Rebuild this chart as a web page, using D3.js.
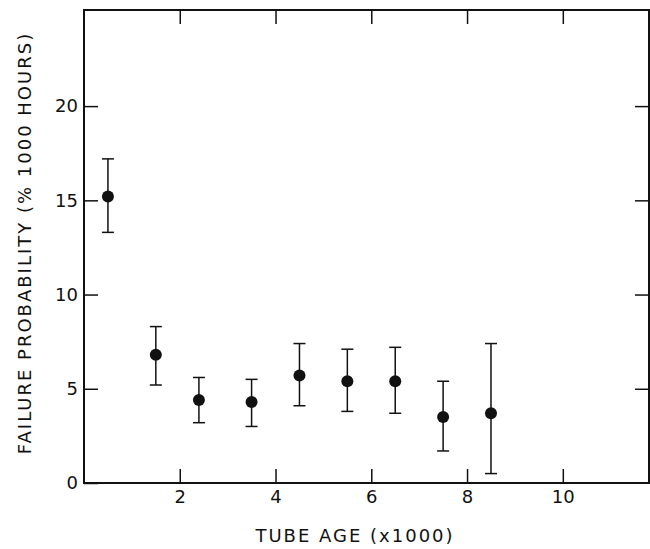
<!DOCTYPE html>
<html><head><meta charset="utf-8">
<script src="https://cdn.jsdelivr.net/npm/d3@7"></script>
<style>body{margin:0;background:#fff}text{font-family:"DejaVu Sans",sans-serif;fill:#111}</style>
</head><body><div class="graph-container"></div>
<script>
const ages = [0.5, 1.5, 2.4, 3.5, 4.5, 5.5, 6.5, 7.5, 8.5];
const probs = [15.2, 6.8, 4.4, 4.3, 5.7, 5.4, 5.4, 3.5, 3.7];
const lows = [13.3, 5.2, 3.2, 3.0, 4.1, 3.8, 3.7, 1.7, 0.5];
const highs = [17.2, 8.3, 5.6, 5.5, 7.4, 7.1, 7.2, 5.4, 7.4];
const xTicks = [2, 4, 6, 8, 10];
const yTicks = [0, 5, 10, 15, 20];

const W = 650, H = 549;
const m = {left: 84, right: 1, top: 10, bottom: 66};
const svg = d3.select('div.graph-container').append('svg').attr('width', W).attr('height', H);
const x = d3.scaleLinear().domain([0, 11.8]).range([m.left, W - m.right]);
const y = d3.scaleLinear().domain([0, 25.1]).range([H - m.bottom, m.top]);

svg.append('rect').attr('x', m.left).attr('y', m.top)
    .attr('width', W - m.right - m.left).attr('height', H - m.bottom - m.top)
    .attr('stroke', '#111').attr('stroke-width', 2).attr('fill', 'none');

const axBottom = svg.append('g').attr('transform', `translate(0,${H - m.bottom})`)
    .call(d3.axisBottom(x).tickValues(xTicks).tickSizeInner(-14).tickSizeOuter(0).tickPadding(7));
const axTop = svg.append('g').attr('transform', `translate(0,${m.top})`)
    .call(d3.axisTop(x).tickValues(xTicks).tickSizeInner(-14).tickSizeOuter(0).tickFormat(''));
const axLeft = svg.append('g').attr('transform', `translate(${m.left},0)`)
    .call(d3.axisLeft(y).tickValues(yTicks).tickSizeInner(-14).tickSizeOuter(0).tickPadding(6));
const axRight = svg.append('g').attr('transform', `translate(${W - m.right},0)`)
    .call(d3.axisRight(y).tickValues(yTicks.slice(1)).tickSizeInner(-14).tickSizeOuter(0).tickFormat(''));
[axBottom, axTop, axLeft, axRight].forEach(g => {
    g.select('.domain').remove();
    g.selectAll('line').attr('stroke', '#111').attr('stroke-width', 1.5);
    g.selectAll('text').attr('font-size', 18).attr('fill', '#111');
});

const pts = ages.map((a, i) => ({a, p: probs[i], lo: lows[i], hi: highs[i]}));
const eb = svg.append('g').attr('stroke', '#111').attr('stroke-width', 1.5);
eb.selectAll('line.v').data(pts).enter().append('line')
    .attr('x1', d => x(d.a)).attr('x2', d => x(d.a)).attr('y1', d => y(d.lo)).attr('y2', d => y(d.hi));
eb.selectAll('line.lo').data(pts).enter().append('line')
    .attr('x1', d => x(d.a) - 6).attr('x2', d => x(d.a) + 6).attr('y1', d => y(d.lo)).attr('y2', d => y(d.lo));
eb.selectAll('line.hi').data(pts).enter().append('line')
    .attr('x1', d => x(d.a) - 6).attr('x2', d => x(d.a) + 6).attr('y1', d => y(d.hi)).attr('y2', d => y(d.hi));
svg.append('g').selectAll('circle').data(pts).enter().append('circle')
    .attr('cx', d => x(d.a)).attr('cy', d => y(d.p)).attr('r', 6).attr('fill', '#111');

svg.append('text').attr('x', 355).attr('y', 542).attr('text-anchor', 'middle')
    .attr('font-size', 18).attr('letter-spacing', 2).text('TUBE AGE (x1000)');
svg.append('text').attr('transform', 'translate(31,243) rotate(-90)').attr('text-anchor', 'middle')
    .attr('font-size', 18).attr('letter-spacing', 2).text('FAILURE PROBABILITY (% 1000 HOURS)');
</script></body></html>
